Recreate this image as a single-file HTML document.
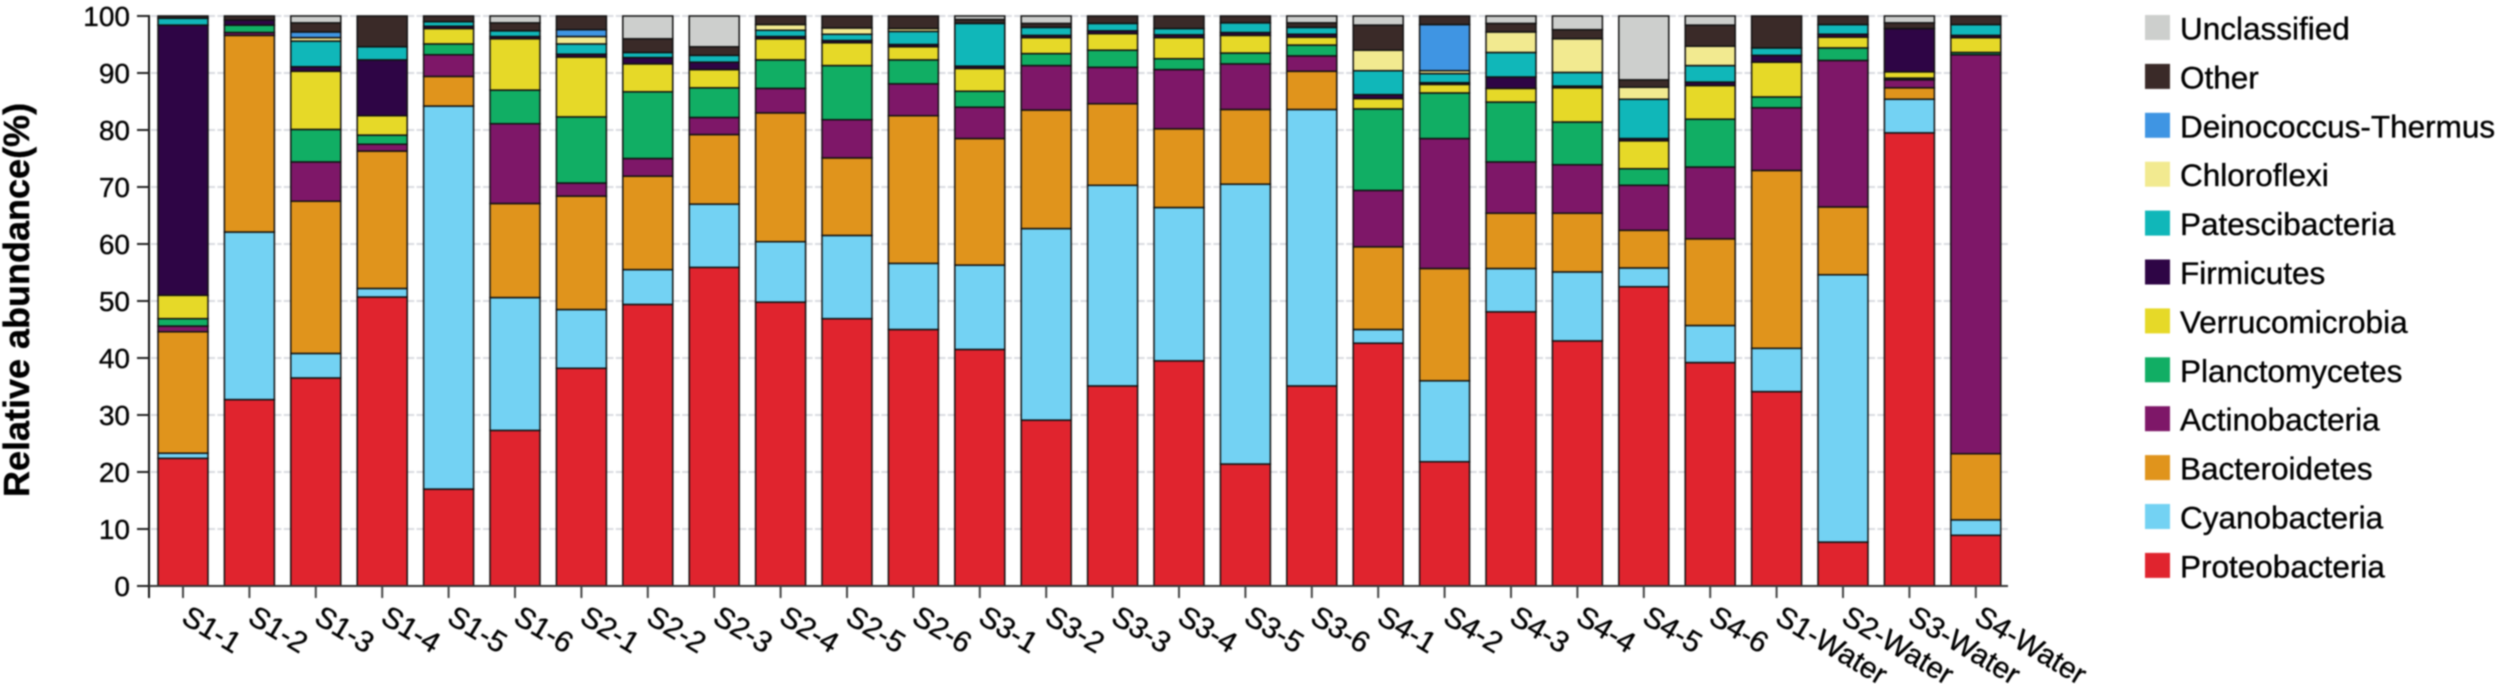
<!DOCTYPE html>
<html lang="en">
<head>
<meta charset="utf-8">
<title>Relative abundance stacked bar chart</title>
<style>
html,body{margin:0;padding:0;background:#fff;width:2500px;height:684px;overflow:hidden}
svg{display:block;filter:blur(0.8px)}
text{font-family:"Liberation Sans",Arial,sans-serif;fill:#000;stroke:#000;stroke-width:0.35px}
</style>
</head>
<body>
<svg id="chart" width="2500" height="684" viewBox="0 0 2500 684" xmlns="http://www.w3.org/2000/svg">
  <rect x="0" y="0" width="2500" height="684" fill="#fff"/>
  <g id="grid"></g>
  <g id="bars"></g>
  <g id="axes"></g>
  <text transform="translate(29,300) rotate(-90)" text-anchor="middle" font-size="36" font-weight="bold">Relative abundance(%)</text>
  <g id="legend"></g>
</svg>
<script>
const categories = ["S1-1","S1-2","S1-3","S1-4","S1-5","S1-6","S2-1","S2-2","S2-3","S2-4","S2-5","S2-6","S3-1","S3-2","S3-3","S3-4","S3-5","S3-6","S4-1","S4-2","S4-3","S4-4","S4-5","S4-6","S1-Water","S2-Water","S3-Water","S4-Water"];
const yTicks = [0,10,20,30,40,50,60,70,80,90,100];
const proteobacteria = [22.4,32.7,36.5,50.7,17,27.3,38.2,49.4,55.9,49.8,46.9,45,41.5,29.1,35.1,39.5,21.4,35.1,42.6,21.8,48.1,43,52.5,39.2,34.1,7.7,79.5,8.9];
const cyanobacteria = [0.9,29.4,4.3,1.5,67.2,23.3,10.3,6.1,11.1,10.6,14.6,11.6,14.8,33.6,35.2,26.9,49.1,48.5,2.4,14.2,7.6,12.1,3.3,6.5,7.6,46.9,5.9,2.7];
const bacteroidetes = [21.3,34.5,26.7,24.1,5.2,16.5,19.9,16.4,12.2,22.6,13.6,25.9,22.2,20.8,14.3,13.8,13.1,6.7,14.5,19.7,9.7,10.3,6.6,15.2,31.2,11.9,2,11.6];
const actinobacteria = [1,0.5,6.9,1.2,3.8,14,2.3,3.1,3,4.3,6.7,5.6,5.5,7.8,6.4,10.4,8,2.7,9.9,22.8,9,8.5,7.9,12.6,11,25.7,1.4,70];
const planctomycetes = [1.3,1.3,5.7,1.6,1.9,5.9,11.6,11.7,5.2,5,9.5,4.2,2.8,2.1,3,1.9,1.9,1.9,14.3,8,10.5,7.5,2.9,8.4,1.9,2.2,0.3,0.4];
const verrucomicrobia = [4.1,0,10.2,3.4,2.7,9,10.5,4.9,3.2,3.7,4,2.3,4,2.8,2.9,3.7,3.1,1.4,1.8,1.5,2.4,6,4.9,5.9,6.1,1.9,1.1,2.6];
const firmicutes = [47.4,0.9,0.8,9.8,0.4,0.4,0.5,1.1,1.3,0.4,0.4,0.4,0.4,0.4,0.5,0.5,0.5,0.5,0.7,0.3,2,0.3,0.4,0.6,1.2,0.5,7.6,0.4];
const patescibacteria = [1.2,0,4.5,2.3,0.8,1,1.8,0.9,1.2,1.1,1.1,2.3,7.5,1.4,1.3,1.1,1.7,1.2,4.2,1.6,4.3,2.4,6.9,2.9,1.3,1.7,0,1.9];
const chloroflexi = [0,0,0.6,0,0,0,1.3,0,0,1,1.1,0.5,0,0,0,0,0,0,3.6,0.5,3.6,5.9,2.1,3.4,0,0,0,0];
const deinococcus = [0,0,1,0,0,0,1.2,0,0,0,0,0,0,0,0,0,0,0,0,8.1,0,0,0,0,0,0,0,0];
const other = [0.4,0.7,1.6,5.4,1,1.4,2.4,2.4,1.5,1.5,2.1,2.2,0.7,0.7,1.3,2.2,1.2,0.8,4.4,1.5,1.5,1.6,1.3,3.7,5.6,1.5,1,1.5];
const unclassified = [0,0,1.2,0,0,1.2,0,4,5.4,0,0,0,0.6,1.3,0,0,0,1.2,1.6,0,1.3,2.4,11.2,1.6,0,0,1.2,0];
const seriesNames = ["Proteobacteria","Cyanobacteria","Bacteroidetes","Actinobacteria","Planctomycetes","Verrucomicrobia","Firmicutes","Patescibacteria","Chloroflexi","Deinococcus-Thermus","Other","Unclassified"];

const seriesValues = [proteobacteria,cyanobacteria,bacteroidetes,actinobacteria,planctomycetes,verrucomicrobia,firmicutes,patescibacteria,chloroflexi,deinococcus,other,unclassified];
const palette = ["#e0242e","#73d2f3","#e0941c","#7e1768","#11ae64","#e6d928","#2e0545","#10b7b9","#f2ea90","#3f95e3","#3a2a28","#cdcfcd"];

const NS = "http://www.w3.org/2000/svg";
const AXIS_X = 149, Y0 = 586, Y100 = 16;
const FIRST_X = 183, STEP_X = 66.4, BAR_W = 50;
function yScale(v){ return Y0 + (Y100 - Y0) * v / 100; }
function xScale(i){ return FIRST_X + STEP_X * i; }
function make(tag, attrs, parent){
  const el = document.createElementNS(NS, tag);
  for (const k in attrs) el.setAttribute(k, attrs[k]);
  parent.appendChild(el);
  return el;
}
function slug(s){ return s.toLowerCase().replace(/[^a-z0-9]+/g, '-'); }

const gridG = document.getElementById('grid');
const barsG = document.getElementById('bars');
const axesG = document.getElementById('axes');
const legendG = document.getElementById('legend');

categories.forEach(function(cat, i){
  const cx = xScale(i);
  yTicks.forEach(function(t){
    if (t === 0) return;
    const gm = make('line', {x1: cx - BAR_W/2 - 7, x2: cx + BAR_W/2 + 7, y1: yScale(t), y2: yScale(t), stroke: '#d9dbe0', 'stroke-width': 2}, gridG);
    
    
  });
  let base = 0;
  seriesValues.forEach(function(vals, s){
    const v = vals[i];
    if (v <= 0) return;
    const top = base + v;
    const r = make('rect', {x: cx - BAR_W/2, y: yScale(top), width: BAR_W, height: yScale(base) - yScale(top), fill: palette[s], stroke: '#111', 'stroke-width': 1.5}, barsG);
    
    
    base = top;
  });
});

const yAxis = make('line', {x1: AXIS_X, x2: AXIS_X, y1: Y100 - 1, y2: 598, stroke: '#111', 'stroke-width': 2}, axesG);


const xAxis = make('line', {x1: AXIS_X, x2: 2008, y1: Y0, y2: Y0, stroke: '#333', 'stroke-width': 2}, axesG);



yTicks.forEach(function(t){
  const tk = make('line', {x1: 137, x2: AXIS_X, y1: yScale(t), y2: yScale(t), stroke: '#222', 'stroke-width': 2}, axesG);
  
  
  const lb = make('text', {x: 130, y: yScale(t) + 10, 'text-anchor': 'end', 'font-size': 28}, axesG);
  lb.textContent = String(t);
  
  
});

categories.forEach(function(cat, i){
  const cx = xScale(i);
  const tk = make('line', {x1: cx, x2: cx, y1: Y0, y2: 598, stroke: '#444', 'stroke-width': 2}, axesG);
  
  
  const lb = make('text', {transform: 'translate(' + (cx - 3) + ',622) rotate(31)', 'font-size': 29.5}, axesG);
  lb.textContent = cat;
  
  
});

const legendOrder = seriesNames.slice().reverse();
legendOrder.forEach(function(name, k){
  const top = 15 + 48.9 * k;
  const sw = make('rect', {x: 2145, y: top, width: 25, height: 25, fill: palette[seriesNames.indexOf(name)]}, legendG);
  
  
  const tx = make('text', {x: 2180, y: top + 24.5, 'font-size': 31.5}, legendG);
  tx.textContent = name;
  
  
});
</script>
</body>
</html>
